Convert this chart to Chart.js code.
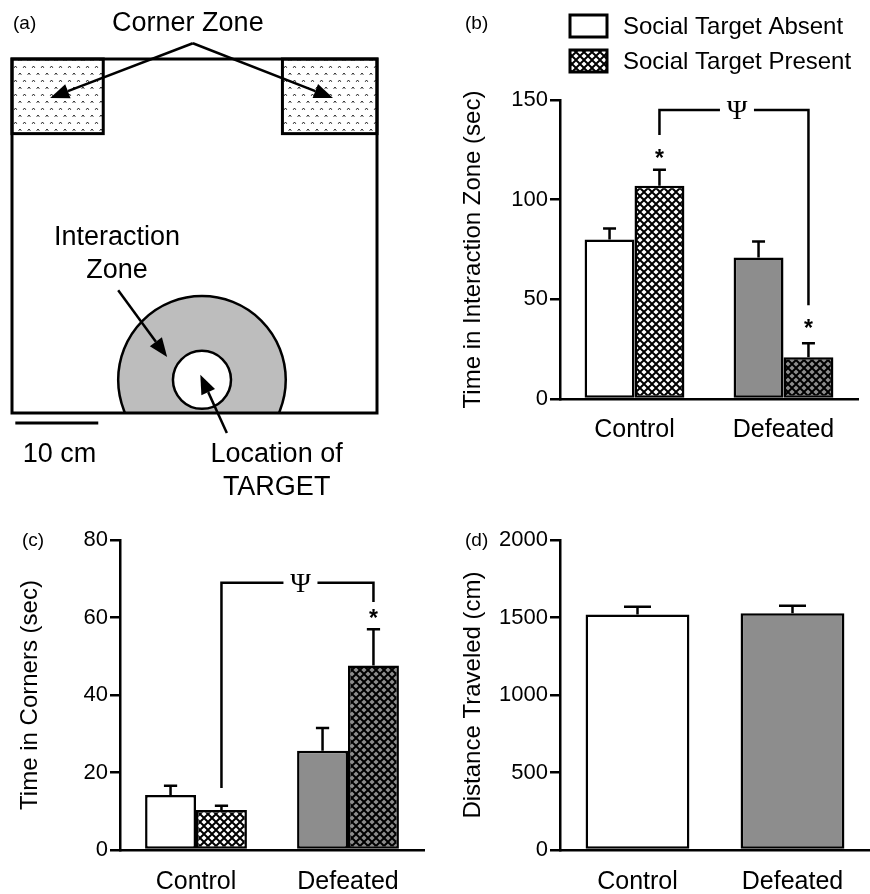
<!DOCTYPE html>
<html>
<head>
<meta charset="utf-8">
<script src="https://cdn.jsdelivr.net/npm/chart.js@4/dist/chart.umd.min.js"></script>
<style>
body { margin: 0; background: #fff; }
#wrap { position: relative; width: 870px; height: 894px; overflow: hidden; background: #fff; }
canvas { position: absolute; }
</style>
</head>
<body>
<div id="wrap">
  <canvas id="panelC" width="440" height="444" style="left:0;top:450px"></canvas>
  <canvas id="panelD" width="430" height="444" style="left:440px;top:450px"></canvas>
  <canvas id="panelA" width="440" height="510" style="left:0;top:0"></canvas>
  <canvas id="panelB" width="430" height="450" style="left:440px;top:0"></canvas>
</div>
<script>
// ---- data ----
const groups = ['Control', 'Defeated'];
const seriesNames = ['Social Target Absent', 'Social Target Present'];

// (b) time in interaction zone (sec), mean and SEM
const zoneAbsent = [80, 71];
const zoneAbsentSem = [5.5, 8];
const zonePresent = [107, 21];
const zonePresentSem = [8, 7];
const zoneTicks = [0, 50, 100, 150];
const zoneBracket = [145, 132.5, 47];   // top, left end, right end
const zoneStars = [123.4, 38];

// (c) time in corners (sec)
const cornerAbsent = [14.2, 25.6];
const cornerAbsentSem = [2.4, 5.9];
const cornerPresent = [10.3, 47.6];
const cornerPresentSem = [1.1, 9.4];
const cornerTicks = [0, 20, 40, 60, 80];
const cornerBracket = [69, 16, 64];
const cornerStars = [null, 61.2];

// (d) distance traveled (cm)
const distance = [1520, 1527];
const distanceSem = [49, 49];
const distanceTicks = [0, 500, 1000, 1500, 2000];

// (a) arena layout, in cm
const arenaSize = [44, 42.7];
const cornerZoneX = [[0, 11], [32.6, 44]];
const cornerZoneDepth = 9;
const interactionZone = [22.9, 4, 10.1, 3.5];   // cx, cy, outer r, inner r
const cornerArrowFrom = [21.8, 44.6];
const cornerArrowTips = [[4.6, 38], [38.7, 38]];
const zoneArrow = [[12.8, 14.8], [18.7, 6.75]];
const targetArrow = [[25.9, -2.4], [22.7, 4.6]];
const scaleBar = [0.4, 10.4, -1.2];

Chart.defaults.font.family = '"Liberation Sans", Arial, sans-serif';
Chart.defaults.color = '#000';

const WHITE = '#ffffff';
const GRAY = '#8d8d8d';

// black crosshatch with coloured diamonds
function hatch(fg) {
  const n = 8, h = 2.6;
  const c = document.createElement('canvas');
  c.width = n; c.height = n;
  const g = c.getContext('2d');
  g.fillStyle = '#000';
  g.fillRect(0, 0, n, n);
  g.fillStyle = fg;
  [[n / 2, n / 2], [0, 0], [n, 0], [0, n], [n, n]].forEach(([x, y]) => {
    g.beginPath();
    g.moveTo(x - h, y); g.lineTo(x, y - h); g.lineTo(x + h, y); g.lineTo(x, y + h);
    g.closePath();
    g.fill();
  });
  return g.createPattern(c, 'repeat');
}

function carets() {
  const c = document.createElement('canvas');
  c.width = 9; c.height = 14;
  const g = c.getContext('2d');
  g.fillStyle = '#fff';
  g.fillRect(0, 0, 9, 14);
  g.strokeStyle = '#222';
  g.lineWidth = 1;
  g.beginPath();
  [[2, 3], [6.5, 10]].forEach(([x, y]) => {
    g.moveTo(x - 1.3, y + 1.8); g.lineTo(x, y); g.lineTo(x + 1.3, y + 1.8);
  });
  g.stroke();
  return g.createPattern(c, 'repeat');
}

const hatchWhite = hatch(WHITE);
const hatchGray = hatch(GRAY);

function arrow(ctx, x0, y0, x1, y1) {
  const a = Math.atan2(y1 - y0, x1 - x0);
  const len = 19, half = 7.5;
  const bx = x1 - len * Math.cos(a), by = y1 - len * Math.sin(a);
  ctx.beginPath();
  ctx.moveTo(x0, y0);
  ctx.lineTo(bx, by);
  ctx.stroke();
  ctx.beginPath();
  ctx.moveTo(x1, y1);
  ctx.lineTo(bx + half * Math.sin(a), by - half * Math.cos(a));
  ctx.lineTo(bx - half * Math.sin(a), by + half * Math.cos(a));
  ctx.closePath();
  ctx.fill();
}

// ---- plugins ----
const errorBars = {
  id: 'errorBars',
  afterDatasetsDraw(chart) {
    const { ctx, scales: { y } } = chart;
    ctx.save();
    ctx.strokeStyle = '#000';
    ctx.lineWidth = 2.5;
    chart.data.datasets.forEach((ds, i) => {
      chart.getDatasetMeta(i).data.forEach((bar, j) => {
        const top = y.getPixelForValue(ds.data[j] + ds.errors[j]);
        const cap = bar.width * 0.13;
        ctx.beginPath();
        ctx.moveTo(bar.x, bar.y);
        ctx.lineTo(bar.x, top);
        ctx.moveTo(bar.x - cap, top);
        ctx.lineTo(bar.x + cap, top);
        ctx.stroke();
      });
    });
    ctx.restore();
  }
};

const sigMarks = {
  id: 'sigMarks',
  afterDatasetsDraw(chart, args, opts) {
    if (!opts.bracket) return;
    const { ctx, scales: { y } } = chart;
    const bars = chart.getDatasetMeta(1).data;
    const [top, leftEnd, rightEnd] = opts.bracket;
    const x0 = bars[0].x, x1 = bars[1].x;
    const yt = y.getPixelForValue(top);
    const mid = (x0 + x1) / 2 + 3, gap = 17;
    ctx.save();
    ctx.strokeStyle = '#000';
    ctx.lineWidth = 2.5;
    ctx.beginPath();
    ctx.moveTo(x0, y.getPixelForValue(leftEnd));
    ctx.lineTo(x0, yt);
    ctx.lineTo(mid - gap, yt);
    ctx.moveTo(mid + gap, yt);
    ctx.lineTo(x1, yt);
    ctx.lineTo(x1, y.getPixelForValue(rightEnd));
    ctx.stroke();
    ctx.fillStyle = '#000';
    ctx.textAlign = 'center';
    ctx.textBaseline = 'alphabetic';
    ctx.font = '28px "Liberation Serif", serif';
    ctx.fillText('Ψ', mid, yt + 9);
    ctx.font = 'bold 23px "Liberation Sans", Arial, sans-serif';
    opts.stars.forEach((v, j) => {
      if (v == null) return;
      ctx.fillText('*', bars[j].x, y.getPixelForValue(v) + 13);
    });
    ctx.restore();
  }
};

const panelTag = {
  id: 'panelTag',
  afterDraw(chart, args, opts) {
    const { ctx } = chart;
    ctx.save();
    ctx.fillStyle = '#000';
    ctx.textBaseline = 'middle';
    ctx.textAlign = 'left';
    ctx.font = '19px "Liberation Sans", Arial, sans-serif';
    ctx.fillText(opts.text, opts.x, opts.y);
    if (opts.legend) {
      ctx.font = '24px "Liberation Sans", Arial, sans-serif';
      chart.data.datasets.forEach((ds, i) => {
        const top = [15, 50][i];
        ctx.fillStyle = ds.backgroundColor[0];
        ctx.fillRect(130, top, 37, 22);
        ctx.strokeStyle = '#000';
        ctx.lineWidth = 3;
        ctx.strokeRect(130, top, 37, 22);
        ctx.fillStyle = '#000';
        ctx.fillText(ds.label, 183, top + 12);
      });
    }
    ctx.restore();
  }
};

function barPanel(id, datasets, ticks, title, cfg) {
  return new Chart(document.getElementById(id), {
    type: 'bar',
    data: { labels: groups, datasets: datasets },
    options: {
      responsive: false,
      animation: false,
      layout: { padding: cfg.padding },
      plugins: {
        legend: { display: false },
        tooltip: { enabled: false },
        sigMarks: cfg.sig || {},
        panelTag: cfg.tag
      },
      scales: {
        x: {
          grid: { display: false, drawTicks: false },
          border: { display: true, color: '#000', width: 2.5 },
          ticks: { color: '#000', font: { size: 25 }, padding: cfg.xPad },
          afterFit: s => { s.height = cfg.xHeight; }
        },
        y: {
          min: ticks[0],
          max: ticks[ticks.length - 1],
          ticks: { stepSize: ticks[1] - ticks[0], color: '#000', font: { size: 22 }, padding: 2, callback: v => String(v) },
          grid: { drawOnChartArea: false, color: '#000', lineWidth: 2.5, tickLength: 10 },
          border: { color: '#000', width: 2.5 },
          title: { display: true, text: title, color: '#000', font: { size: 24 }, padding: { top: cfg.titlePad } },
          afterFit: s => { s.width = 120; }
        }
      }
    },
    plugins: [errorBars, sigMarks, panelTag]
  });
}

const barStyle = { borderColor: '#000', borderWidth: 2.5, borderSkipped: false, categoryPercentage: 0.67, barPercentage: 1 };

barPanel('panelB', [
  Object.assign({ label: seriesNames[0], data: zoneAbsent, errors: zoneAbsentSem, backgroundColor: [WHITE, GRAY] }, barStyle),
  Object.assign({ label: seriesNames[1], data: zonePresent, errors: zonePresentSem, backgroundColor: [hatchWhite, hatchGray] }, barStyle)
], zoneTicks, 'Time in Interaction Zone (sec)', {
  padding: { top: 100, right: 12, bottom: 5, left: 0 },
  xHeight: 46, xPad: 16, titlePad: 19,
  sig: { bracket: zoneBracket, stars: zoneStars },
  tag: { text: '(b)', x: 25, y: 24, legend: true }
});

barPanel('panelC', [
  Object.assign({ label: seriesNames[0], data: cornerAbsent, errors: cornerAbsentSem, backgroundColor: [WHITE, GRAY] }, barStyle),
  Object.assign({ label: seriesNames[1], data: cornerPresent, errors: cornerPresentSem, backgroundColor: [hatchWhite, hatchGray] }, barStyle)
], cornerTicks, 'Time in Corners (sec)', {
  padding: { top: 90, right: 16, bottom: 0, left: 0 },
  xHeight: 44, xPad: 17, titlePad: 16,
  sig: { bracket: cornerBracket, stars: cornerStars },
  tag: { text: '(c)', x: 22, y: 91 }
});

barPanel('panelD', [
  Object.assign({ label: 'Distance', data: distance, errors: distanceSem, backgroundColor: [WHITE, GRAY] }, barStyle)
], distanceTicks, 'Distance Traveled (cm)', {
  padding: { top: 90, right: 0, bottom: 0, left: 0 },
  xHeight: 44, xPad: 17, titlePad: 19,
  tag: { text: '(d)', x: 25, y: 91 }
});

// ---- (a) arena diagram drawn on hidden linear scales (cm) ----
const caretFill = carets();
const arenaDraw = {
  id: 'arenaDraw',
  afterDraw(chart) {
    const { ctx, scales: { x, y } } = chart;
    const px = v => x.getPixelForValue(v), py = v => y.getPixelForValue(v);
    const k = px(1) - px(0);
    const [W, H] = arenaSize;
    ctx.save();
    ctx.lineJoin = 'miter';
    ctx.strokeStyle = '#000';
    ctx.fillStyle = '#000';

    // corner zones
    cornerZoneX.forEach(([a, b]) => {
      ctx.fillStyle = caretFill;
      ctx.fillRect(px(a), py(H), px(b) - px(a), py(H - cornerZoneDepth) - py(H));
      ctx.lineWidth = 3;
      ctx.strokeRect(px(a), py(H), px(b) - px(a), py(H - cornerZoneDepth) - py(H));
    });

    // interaction zone and target, clipped to the arena
    const [cx, cy, ro, ri] = interactionZone;
    ctx.save();
    ctx.beginPath();
    ctx.rect(px(0), py(H), px(W) - px(0), py(0) - py(H));
    ctx.clip();
    ctx.lineWidth = 2.5;
    ctx.beginPath();
    ctx.arc(px(cx), py(cy), ro * k, 0, Math.PI * 2);
    ctx.fillStyle = '#bdbdbd';
    ctx.fill();
    ctx.stroke();
    ctx.beginPath();
    ctx.arc(px(cx), py(cy), ri * k, 0, Math.PI * 2);
    ctx.fillStyle = '#fff';
    ctx.fill();
    ctx.stroke();
    ctx.restore();

    // arena walls
    ctx.lineWidth = 3;
    ctx.strokeRect(px(0), py(H), px(W) - px(0), py(0) - py(H));

    // arrows
    ctx.fillStyle = '#000';
    ctx.lineWidth = 2.5;
    cornerArrowTips.forEach(t => arrow(ctx, px(cornerArrowFrom[0]), py(cornerArrowFrom[1]), px(t[0]), py(t[1])));
    arrow(ctx, px(zoneArrow[0][0]), py(zoneArrow[0][1]), px(zoneArrow[1][0]), py(zoneArrow[1][1]));
    arrow(ctx, px(targetArrow[0][0]), py(targetArrow[0][1]), px(targetArrow[1][0]), py(targetArrow[1][1]));

    // scale bar
    ctx.lineWidth = 3;
    ctx.beginPath();
    ctx.moveTo(px(scaleBar[0]), py(scaleBar[2]));
    ctx.lineTo(px(scaleBar[1]), py(scaleBar[2]));
    ctx.stroke();

    // labels
    ctx.textBaseline = 'middle';
    ctx.textAlign = 'left';
    ctx.font = '19px "Liberation Sans", Arial, sans-serif';
    ctx.fillText('(a)', 13, 24);
    ctx.font = '27px "Liberation Sans", Arial, sans-serif';
    ctx.fillText('10 cm', px(1.3), py(-5.06));
    ctx.textAlign = 'center';
    ctx.fillText('Corner Zone', px(21.2), py(47.0));
    ctx.fillText('Interaction', px(12.66), py(21.2));
    ctx.fillText('Zone', px(12.66), py(17.2));
    ctx.fillText('Location of', px(31.9), py(-5.06));
    ctx.fillText('TARGET', px(31.9), py(-9.04));
    ctx.restore();
  }
};

new Chart(document.getElementById('panelA'), {
  type: 'scatter',
  data: { datasets: [{ data: [] }] },
  options: {
    responsive: false,
    animation: false,
    layout: { padding: { left: 12, top: 59, right: 63, bottom: 97 } },
    plugins: { legend: { display: false }, tooltip: { enabled: false } },
    scales: {
      x: { type: 'linear', min: 0, max: arenaSize[0], display: false },
      y: { type: 'linear', min: 0, max: arenaSize[1], display: false }
    }
  },
  plugins: [arenaDraw]
});
</script>
</body>
</html>
